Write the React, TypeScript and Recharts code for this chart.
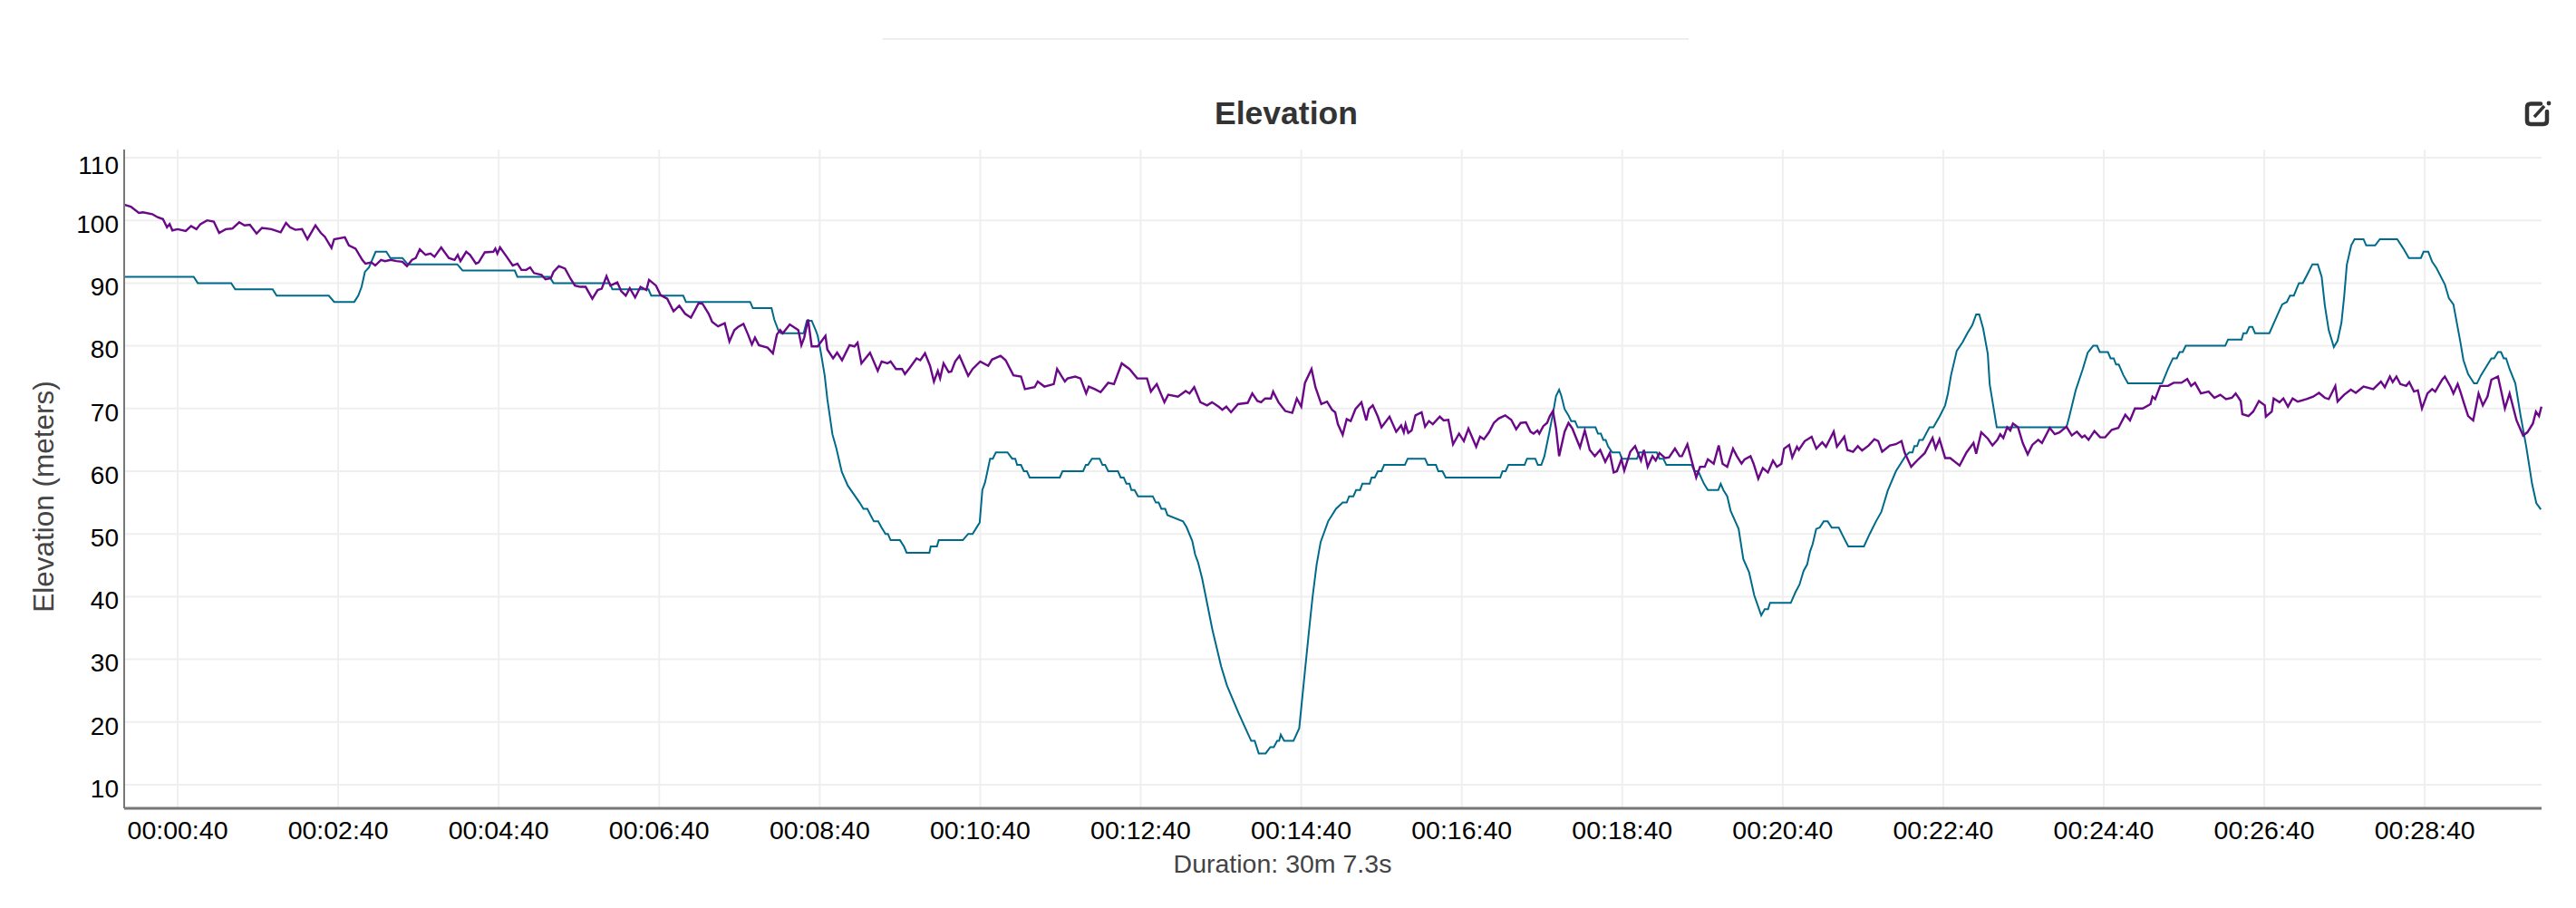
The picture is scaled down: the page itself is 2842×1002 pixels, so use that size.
import React from 'react';
import { LineChart, Line, XAxis, YAxis, CartesianGrid } from 'recharts';

// [seconds, meters]
const gpsElevation: [number, number][] = [
  [0,91],[52,91],[55,90],[80,90],[83,89],[111,89],[114,88],[153,88],[157,87],[172,87],[175,88],[177.5,89.4],[180,91.8],[183,92.5],[188,95],[196,95],[199,94],[208,94],[212,93],[249,93],[253,92],[292,92],[294,91],[318,91],[321,90],[363,90],[365,89],[392,89],[394,88],[418,88],[420,87],[468,87],[470,86],[484,86],[486,84.2],[489,82.5],[491,82],[508,82],[510.4,84],[514,84],[517,82.5],[518.5,81.6],[520.8,79],[523.7,75.3],[525.7,71.5],[529.5,65.9],[532.4,63.7],[536.5,59.9],[541,57.7],[549.8,55],[552.7,54],[555.6,54],[558,53],[560.5,52],[563.7,52],[566.3,51],[569.2,50],[571,50],[573,49],[580,49],[583,48],[585,47],[602,47],[603,48],[607.6,48],[609,49],[627,49],[631,50],[634.3,50],[637.8,51.2],[639.6,51.8],[641.6,57],[643.6,58.2],[647.4,62],[649.4,62],[651.7,63],[660.4,63],[663.9,62],[666.2,62],[667.6,61],[670.5,61],[672.6,60],[674.9,60],[677,59],[699.5,59],[701.5,60],[716.9,60],[719,61],[720.6,61],[723.5,62],[729.3,62],[731.4,61],[733.4,61],[735.7,60],[743,60],[745,59],[747.3,59],[749.3,58],[751.6,58],[753,57],[755.4,57],[758,56],[769,56],[771.3,55],[773.4,55],[775.4,54],[778.3,54],[780,53],[791.6,52],[794.2,51.1],[798.5,48.9],[800.7,46.7],[802.8,45.5],[805.9,42.9],[809.3,39.3],[813.6,34.7],[820.1,28.9],[824.5,25.8],[833,21.5],[839.6,18.4],[842.6,17],[845.2,17],[848.2,15],[853.4,15],[856.9,16],[859.5,16],[862,17],[863.5,17],[864.7,18],[867.2,17],[874.2,17],[878.5,19],[882.8,28.2],[885.8,34.5],[888.4,39.8],[891.5,45.1],[894.5,48.7],[900.1,52],[903,53],[906,54],[911,55],[914,55],[915.8,56],[919,56],[921,57],[924,57],[925.7,58],[931.2,58],[932.6,59],[935,59],[937.3,60],[940,60],[942,61],[957.5,61],[959.6,62],[972.6,62],[974.6,61],[980.7,61],[982.5,60],[985.6,60],[988,59],[1028.8,59],[1030.5,60],[1032.8,60],[1034.9,61],[1047,61],[1048.8,62],[1055,62],[1056.9,61],[1059.5,61],[1061.8,62.4],[1065.3,66],[1068.2,69.2],[1070.5,72],[1072.8,73],[1074.5,72],[1076.9,69.9],[1079.8,68.9],[1081.8,68],[1084.7,68],[1086.7,67],[1100,67],[1101.8,66],[1104,66],[1105.8,65],[1107.6,65],[1109.3,64],[1112.5,63],[1118,63],[1119.7,62],[1131,62],[1132.8,63],[1145.8,63],[1147.8,62],[1150.7,62],[1153,61],[1171.9,61],[1174,60],[1176.8,60],[1181.1,58],[1184,57],[1191.8,57],[1193.6,58],[1195.6,57],[1198.5,56],[1201,53.7],[1207,50.8],[1210.5,46],[1214.8,43.9],[1218.7,40.2],[1223.9,37],[1226.5,38],[1229,38],[1230.5,39],[1246,39],[1249.5,40.7],[1252.5,41.9],[1255.6,44.1],[1258.2,45.1],[1260.4,47.2],[1262.4,48.4],[1265,50.8],[1267.6,51],[1270.6,52],[1273.6,52],[1276.6,51],[1281.9,51],[1284.7,49.8],[1289,48],[1300.7,48],[1305,50],[1309.7,52],[1313.7,53.5],[1318.5,56.9],[1324.6,60],[1331.7,62.4],[1334.6,63],[1337,63],[1338.4,64],[1340.4,64],[1342.1,65],[1344.7,65],[1349.7,67],[1352.6,67],[1357.2,68.7],[1361.4,70.5],[1363.5,72.4],[1365.8,75.3],[1370.1,79.2],[1374.5,80.6],[1378,82],[1381.7,83.3],[1384.6,85],[1386.9,85],[1389.8,82.8],[1393.3,78.7],[1394.7,73.9],[1400,67],[1452.1,67],[1454.1,68.6],[1459,72.9],[1464.3,76.3],[1468,78.9],[1472.1,80],[1475,80],[1477,79],[1483.1,79],[1485.1,78],[1487.4,78],[1489.2,77],[1491.2,77],[1494.7,75.3],[1498.1,74],[1523.6,74],[1528,76.3],[1531.7,78],[1534.6,78],[1536.7,79],[1539,79],[1541.3,80],[1570.8,80],[1572.9,81],[1583,81],[1584.4,82],[1586.7,82],[1588.8,83],[1591.1,83],[1593.1,82],[1603.8,82],[1609,84.5],[1613.4,86.6],[1616.9,87],[1619.2,88],[1622.1,88],[1625.9,90],[1628.8,90],[1632.2,91.4],[1636,93],[1640,93],[1642.9,91],[1645.3,86.4],[1648.2,82.5],[1652,79.8],[1654.8,80.8],[1657.7,83.7],[1659.7,87.8],[1661.7,92.9],[1665,96],[1667.5,97],[1674.2,97],[1676.2,96],[1682.9,96],[1686.4,97],[1699.4,97],[1704,95.5],[1708.1,94],[1717.1,94],[1719.1,95],[1722.6,95],[1725.5,93.4],[1728.7,92.4],[1735,89.8],[1738,87.6],[1741.4,86.6],[1746.6,80.6],[1748.9,77.7],[1752.4,75.5],[1756.8,74],[1759,74],[1762,75.3],[1769.8,78],[1771.8,78],[1774.7,79],[1777,79],[1779,78],[1780.8,78],[1783.4,76.3],[1787.7,74],[1791.5,69],[1795.8,64],[1800.2,58],[1803.4,54.9],[1806.8,53.9],
];

// [seconds, meters]
const baroElevation: [number, number][] = [
  [0,102.5],[5,102.2],[11,101.2],[14,101.3],[21,101],[25,100.5],[29,100.2],[32,98.9],[34,99.4],[36,98.4],[40,98.6],[46,98.3],[50,99.1],[54,98.6],[57,99.4],[62,100],[67,99.8],[71,98],[76,98.6],[81,98.7],[86,99.7],[90,99.2],[94,99.3],[99,97.9],[103,98.8],[110,98.6],[117,98.1],[121,99.6],[124,98.9],[128,98.5],[133,98.6],[137,97],[143,99.2],[147,98],[150,97.4],[155,95.6],[157,97],[165,97.3],[168,96],[173,95.5],[178,93.7],
  [180.4,93.1],[184.8,93.3],[187.7,92.8],[192,93.7],[195,93.5],[199.3,93.7],[203.6,93.5],[208,93.4],[211.4,92.7],[215.2,93.7],[218,94],[221,95.4],[225.3,94.5],[229,94.7],[232,94.2],[237,95.7],[242.7,94],[247,93.7],[249.4,94.5],[251.4,93.5],[255.7,95],[258.6,94.5],[263,93.1],[265,93.3],[269.6,94.9],[276,95],[277.5,95.5],[279,94.7],[281,95.7],[286,94.2],[290.5,92.8],[294,93.1],[297,92.1],[300.6,92.1],[303.5,92.5],[306.4,91.6],[312,91.3],[315,90.6],[319,90.8],[321,91.8],[325,92.7],[329.6,92.3],[334,90.6],[337,89.6],[341,89.4],[345,89.4],[350,87.5],[354,88.9],[357,89.1],[360.6,91.1],[363.5,89.6],[368.7,90.1],[371.6,88.7],[375,88],[378,89.2],[382,87.7],[386,89.4],[390.4,88.9],[392.4,90.5],[397.6,89.6],[401,88.1],[406,87.5],[410.7,85.5],[415,86.4],[419.4,85.1],[423.7,84.5],[429.5,86.8],[432.4,86.7],[437,85.1],[439.6,83.8],[444,83.1],[449,83.6],
  [452.5,80.7],[456.2,82.5],[459,83],[463,83.5],[466.4,81.8],[469.3,80.2],[471.6,81.3],[474.5,80.1],[481,79.7],[485,78.8],[488,81.8],[490.4,82.5],[492.4,82],[497.6,83.4],[504,82.5],[506.3,80.1],[508.4,81.3],[511.3,84.2],[514,79.9],[518.5,79.9],[524.3,81.6],[525.7,79.4],[530,78],[533,78.9],[536.7,77.7],[542.3,80.1],[546,79.9],[548.3,80.5],[551.2,77.2],[557.6,78.9],[563.4,76],[566.3,77.5],[570.6,77.2],[573,77.5],[577,76.3],[581.6,76.3],[583.7,75.5],[587.4,76.5],[592.4,78],[595.2,77.7],[598.7,78.8],[602.5,76.8],[605.4,74.3],[608.3,76],[610,74.8],[612.6,77.2],[616.4,75.8],[618.4,75.9],[621.3,77.5],[624.5,78.4],[631,75.2],[634.3,76.3],[640,77.5],[646,76.8],[648.8,77.8],[655.2,78.4],[659,77.7],[664.8,75.3],[670.5,75.1],[673.4,73.1],[680.7,73.4],[683,74.3],[688,73.5],[695,73.9],[697.5,76.3],[703.3,74.3],[705.3,74.8],[711,75.1],[715,74.8],[719.2,72.4],[721.2,73.5],[725.6,73.1],[730,72.6],[735.7,74.1],[740,73.9],[745.8,77.2],[751.6,76.3],[757.4,74.8],[761.2,74.8],[764.7,74.8],[767.6,72.7],[772,73.9],[777.7,71],[780.6,72.2],[787.8,71.9],[793.6,72.8],[796.5,72.4],[800,73.4],[804.6,71],[809.6,70.5],[813.3,71],[818.2,70.3],[821,69.8],[824,70.3],[827.5,69.4],[832.7,70.7],[840,70.9],[843.4,72.4],[847.2,71.2],[850,71],[853,71.6],[857.3,71.6],[859,72.7],[863,71],[868,69.6],[873.3,69.3],[876.7,71.6],[880,70.3],[882.8,74.1],[887.7,76.3],[890.6,73.4],[895,70.7],[899.3,71.1],[903,69.8],
  [905.4,69.4],[907.4,67.5],[911,65.8],[914,68.3],[917,68],[920.5,69.9],[925,71],[928.6,68.1],[930.6,69.9],[933.5,70.5],[937.3,68.7],[940,67],[946,68.7],[951,66.3],[954.7,67.3],[956.7,66.2],[958,67.5],[960,66.1],[962.5,66.5],[965.4,68.9],[970,69.4],[972.6,67.1],[975.5,68],[978.4,67.5],[983.6,68.7],[986.5,68.1],[990,68.2],[993.5,64.3],[998,66],[1001.6,64.8],[1005,66.8],[1010.8,63.9],[1013.7,65.5],[1016.6,65.1],[1020.4,66.2],[1024,67.7],[1027.6,68.4],[1032.5,68.9],[1037,68.2],[1040.7,66.7],[1044,67.7],[1048,67.8],[1051.4,66.3],[1053.7,66],[1056.6,66.5],[1058,66],[1061,67.2],[1063.8,67.7],[1065.9,68.8],[1068.2,69.6],[1070.5,66.8],[1072.8,62.4],[1076.9,66.3],[1079.8,67.7],[1082.7,66.8],[1088.4,63.8],[1092,66.5],[1095.7,63.4],[1099.5,62.4],[1103.5,63.4],[1107.3,61.5],[1110.7,62.9],[1113.6,59.8],[1116,60],[1119.4,61.9],[1121.5,60.1],[1126,63.1],[1129.6,64],[1134,61.7],[1136.2,63.4],[1139,60.7],[1142.6,62.4],[1145,61.7],[1147.8,62.9],[1152,62.1],[1155,62.2],[1159.4,63.6],[1162.9,62.4],[1164.6,62.4],[1168.7,64.3],[1171,62.4],[1175.3,59],[1178.2,60.7],[1181.7,60.7],[1184,61.9],[1188.4,61.2],[1192.1,64.1],[1195,61.2],[1198.5,60.7],[1202.8,63.6],[1205.7,62.4],[1209.2,61.2],[1211.5,61.9],[1215.9,62.4],[1218.2,61.2],[1221.7,58.8],[1225.1,60.5],[1228.9,59.8],[1232.7,61.7],[1235.6,60.7],[1239,61.2],[1241,63.6],[1244.8,64.2],[1247.1,62.2],[1250.6,63.9],[1252,63.4],[1256.4,64.8],[1261.6,65.5],[1265.1,63.6],[1269.5,64.6],[1272.3,63.9],[1278.1,66.3],[1280.5,63.9],[1286,65.5],[1288.3,63.4],[1292.6,63.1],[1296.1,64],[1299.3,63.3],[1304.2,64.1],[1308.5,65.1],[1311.4,64.8],[1314.3,63.1],[1320.1,64.1],[1324.5,64.3],[1328.8,64.8],[1331.1,63],[1336,60.7],[1340.4,61.7],[1346.2,62.9],[1352,65.3],[1354.3,63.6],[1357.2,65.1],
  [1361.4,62.1],[1365.2,62.1],[1372.2,60.9],[1377.4,63],[1382.6,64.5],[1384.6,62.8],[1388.4,66.2],[1393.3,65.2],[1396.8,64.1],[1400.5,65],[1402.6,65.9],[1404.9,65.3],[1407.8,67],[1410.1,66.5],[1412.1,67.6],[1415.9,67],[1419.4,64.5],[1423.1,62.7],[1426.6,64.2],[1431,65],[1433.8,64.5],[1439.6,66.9],[1443.4,65.9],[1446.9,66.2],[1452.1,67.1],[1456.1,65.7],[1459.9,66.3],[1463.7,65.4],[1465.7,65.7],[1468.6,65],[1473,66.4],[1477.3,65.4],[1481,65.4],[1486,66.6],[1490.9,66.9],[1496.1,69],[1499.6,68.1],[1503.3,70],[1509.1,70],[1514.9,70.7],[1516.4,71.9],[1518.4,71.5],[1522.2,73.6],[1528,73.6],[1532.3,74.1],[1538.1,74.1],[1542.4,74.7],[1545.3,73.6],[1548.2,74.1],[1552.6,72.4],[1558.4,72.7],[1562.7,71.7],[1567.1,72.2],[1571.4,71.5],[1575.8,71.7],[1578.6,72.4],[1582.4,71.2],[1583.6,69.1],[1588.2,68.8],[1591.7,69.5],[1596,71.2],[1600.4,70.5],[1601.2,68.7],[1605.6,69.5],[1607,71.6],[1611.4,71],[1614.3,71.6],[1617.7,70.3],[1621.2,71.6],[1625,71.1],[1631.6,71.5],[1636.6,71.9],[1640.9,72.5],[1645.3,71.7],[1648.2,71.5],[1653.1,73.6],[1654.8,71.1],[1659.7,72.2],[1664.7,73],[1668.4,72.5],[1674.2,73.5],[1681.5,73.1],[1687.2,74.3],[1690.1,73.4],[1693.9,75.1],[1696,74.2],[1698.8,75.1],[1701.7,73.9],[1706.1,73.6],[1708.4,74.2],[1711.9,72.7],[1714.8,72.9],[1717.9,70],[1722,72.4],[1725.5,73.1],[1727.8,72.7],[1733,74.6],[1735,75.1],[1739.4,73.4],[1741.4,72.4],[1744.6,73.9],[1746.6,72.7],[1749.5,70.7],[1752.4,68.8],[1756.2,68.1],[1760.2,72.4],[1763.4,70.5],[1766.9,71.9],[1769.8,74.6],[1774.7,75.1],[1777,72.9],[1779.9,70],[1783.4,72.4],[1788.6,68.1],[1793.5,65.7],[1796.7,66.2],[1800.8,67.6],[1803.1,69.5],[1805.4,68.8],[1807.2,70.3],
];

const xTicks = [40, 160, 280, 400, 520, 640, 760, 880, 1000, 1120, 1240, 1360, 1480, 1600, 1720];
const yTicks = [10, 20, 30, 40, 50, 60, 70, 80, 90, 100, 110];

const gpsData = gpsElevation.map(([t, v]) => ({ t, v }));
const baroData = baroElevation.map(([t, v]) => ({ t, v }));

const pad = (n: number) => String(n).padStart(2, '0');
const formatTime = (s: number) => `${pad(Math.floor(s / 3600))}:${pad(Math.floor(s / 60) % 60)}:${pad(s % 60)}`;

const FONT = '"Liberation Sans", Arial, sans-serif';

const YTick = ({ x, y, payload }: any) => (
  <text x={x} y={y + (payload.value === 110 ? 8 : 4)} dy="0.35em" textAnchor="end" fill="#000" fontSize={28} fontFamily={FONT}>
    {payload.value}
  </text>
);

export default function App() {
  return (
    <div style={{ position: 'absolute', left: 0, top: 0, width: 2842, height: 1002, background: '#fff', overflow: 'hidden' }}>
      <div style={{ position: 'absolute', left: 974, top: 42, width: 889, height: 2, background: '#eeeeee' }} />
      <svg style={{ position: 'absolute', left: 2784, top: 110 }} width={32} height={30} viewBox="0 0 32 30">
        <path d="M19 4.5 H8 Q4 4.5 4 8.5 V23 Q4 27 8 27 H22 Q26 27 26 23 V13" fill="none" stroke="#333" strokeWidth={4.5} strokeLinecap="round" />
        <path d="M12 19 L23 7" fill="none" stroke="#333" strokeWidth={3.5} />
        <circle cx={28} cy={4} r={2.4} fill="#333" />
      </svg>
      <LineChart width={2842} height={1002} margin={{ top: 165, right: 38, bottom: 0, left: 0 }}>
        <CartesianGrid stroke="#efefef" strokeWidth={2} syncWithTicks />
        <XAxis
          dataKey="t"
          type="number"
          domain={[0, 1807.3]}
          ticks={xTicks}
          tickFormatter={formatTime}
          interval={0}
          height={110}
          allowDuplicatedCategory={false}
          axisLine={{ stroke: '#777', strokeWidth: 3 }}
          tickLine={false}
          tickMargin={8}
          tick={{ fill: '#000', fontSize: 28.5, fontFamily: FONT }}
        />
        <YAxis
          type="number"
          domain={[6.24, 111.3]}
          ticks={yTicks}
          interval={0}
          allowDataOverflow
          width={137}
          axisLine={{ stroke: '#777', strokeWidth: 2 }}
          tickLine={false}
          tickMargin={0}
          tick={<YTick />}
        />
        <Line data={gpsData} dataKey="v" type="linear" stroke="#006a8a" strokeWidth={2} dot={false} isAnimationActive={false} />
        <Line data={baroData} dataKey="v" type="linear" stroke="#6a0888" strokeWidth={2.4} dot={false} isAnimationActive={false} />
        <text x={1419} y={125} dy="0.35em" textAnchor="middle" fill="#333" fontSize={35.5} fontWeight="bold" fontFamily={FONT}>Elevation</text>
        <text x={1415} y={953} dy="0.35em" textAnchor="middle" fill="#444" fontSize={28.5} fontFamily={FONT}>Duration: 30m 7.3s</text>
        <text transform="rotate(-90 48 548)" x={48} y={548} dy="0.35em" textAnchor="middle" fill="#444" fontSize={31.5} fontFamily={FONT}>Elevation (meters)</text>
      </LineChart>
    </div>
  );
}
